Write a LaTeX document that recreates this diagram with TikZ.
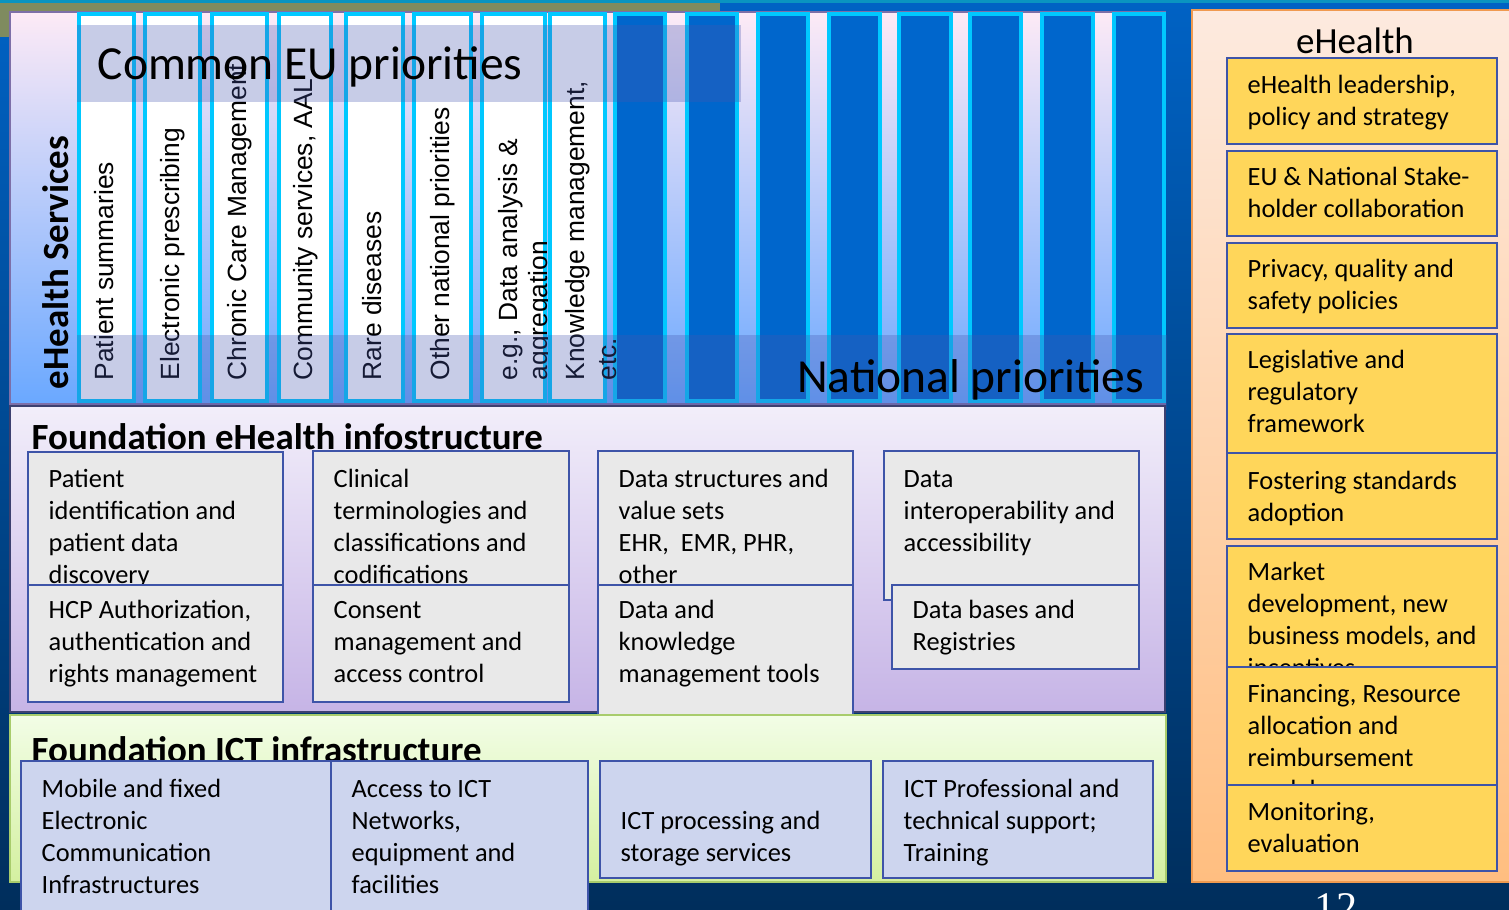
\documentclass[tikz,border=0pt]{standalone}
\usepackage{fontspec}
\setmainfont{Carlito}
\newfontfamily\columnfont{Liberation Sans}
\newfontfamily\pagefont{Liberation Serif}

\definecolor{slidetop}{HTML}{0062C4}
\definecolor{slidebottom}{HTML}{002E5C}
\definecolor{stripolive}{HTML}{7F8B5F}
\definecolor{stripteal}{HTML}{0A94C0}
\definecolor{servtop}{HTML}{FDEAF6}
\definecolor{servmid}{HTML}{C4D4EE}
\definecolor{servbottom}{HTML}{6AA8FF}
\definecolor{servline}{HTML}{7D6FA8}
\definecolor{colcyan}{HTML}{00C8FF}
\definecolor{colblue}{HTML}{0066CC}
\definecolor{bandtint}{HTML}{4858B0}
\definecolor{infotop}{HTML}{F2EEFA}
\definecolor{infobottom}{HTML}{C6B4E6}
\definecolor{infoline}{HTML}{3C4070}
\definecolor{ictop}{HTML}{F2FDE6}
\definecolor{ictbottom}{HTML}{D4F0A0}
\definecolor{ictline}{HTML}{A8CC6C}
\definecolor{govtop}{HTML}{FDEADF}
\definecolor{govbottom}{HTML}{FFBE80}
\definecolor{govline}{HTML}{F09A50}
\definecolor{boxline}{HTML}{3E54A8}
\definecolor{boxgray}{HTML}{E9E9E9}
\definecolor{boxict}{HTML}{CDD5EE}
\definecolor{boxgold}{HTML}{FFD65A}

\begin{document}
\begin{tikzpicture}[
    x=0.01cm, y=-0.01cm,
    panel/.style={line width=0.02cm},
    whitecol/.style={draw=colcyan, line width=0.04cm, fill=white},
    bluecol/.style={draw=colcyan, line width=0.04cm, fill=colblue},
    band/.style={fill=bandtint, fill opacity=0.3},
    coltext/.style={rotate=90, anchor=base west, inner sep=0pt, font=\columnfont\fontsize{7.5}{8.6}\selectfont},
    bandtitle/.style={inner sep=0pt, font=\fontsize{13.5}{16}\selectfont},
    layertitle/.style={anchor=base west, inner sep=0pt, font=\bfseries\fontsize{10.5}{12.6}\selectfont},
    cell/.style={draw=boxline, line width=0.015cm},
    celltext/.style={anchor=base west, inner sep=0pt, align=left, font=\fontsize{7.5}{9.1}\selectfont}
]
\useasboundingbox (0,0) rectangle (1509,909);
\clip (0,0) rectangle (1509,909);

% Slide background
\shade[top color=slidetop, bottom color=slidebottom] (0,0) rectangle (1509,909);
\fill[stripteal] (0,0) rectangle (1509,3);
\fill[stripolive] (0,3) rectangle (720,11);
\fill[stripolive] (0,3) rectangle (10,37);

% eHealth services layer
\draw[panel, draw=servline, top color=servtop, middle color=servmid, bottom color=servbottom] (10,12) rectangle (1165,404);

% Common priority columns
\draw[whitecol] (79,14) rectangle (134,401);
\draw[whitecol] (145,14) rectangle (200,401);
\draw[whitecol] (212,14) rectangle (267,401);
\draw[whitecol] (279,14) rectangle (331,401);
\draw[whitecol] (346,14) rectangle (403,401);
\draw[whitecol] (414,14) rectangle (471,401);
\draw[whitecol] (482,14) rectangle (545,401);

% National priority columns
\draw[bluecol] (615,14) rectangle (665,401);
\draw[bluecol] (687,14) rectangle (737,401);
\draw[bluecol] (758,14) rectangle (808,401);
\draw[bluecol] (829,14) rectangle (880,401);
\draw[bluecol] (899,14) rectangle (951,401);
\draw[bluecol] (970,14) rectangle (1021,401);
\draw[bluecol] (1042,14) rectangle (1093,401);
\draw[bluecol] (1114,14) rectangle (1164,401);

% Service names
\node[coltext] (summaries) at (113,381) {Patient summaries};
\node[coltext] (prescribing) at (179,381) {Electronic prescribing};
\node[coltext] (chronic) at (246,381) {Chronic Care Management};
\node[coltext] (community) at (312,381) {Community services, AAL};
\node[coltext] (rare) at (381,381) {Rare diseases};
\node[coltext] (othernat) at (449,381) {Other national priorities};
\node[coltext] (analysis) at (517,381) {e.g., Data analysis \&};
\node[coltext] (aggregation) at (547,381) {aggregation};
\draw[whitecol] (550,14) rectangle (605,401);
\node[coltext] (knowledge) at (584,381) {Knowledge management,};
\node[coltext] (etc) at (616,381) {etc.};

% Priority bands
\fill[band] (77,25) rectangle (741,102);
\fill[band] (77,335) rectangle (1167,410);
\node[bandtitle, anchor=base west] (common) at (97,80) {Common EU priorities};
\node[bandtitle, anchor=base east] (national) at (1145,392) {National priorities};
\node[rotate=90, anchor=base west, inner sep=0pt, font=\bfseries\fontsize{10.5}{12.6}\selectfont] (services) at (68,390) {eHealth Services};

% Foundation eHealth infostructure (text nodes sit on their last baseline)
\draw[panel, draw=infoline, top color=infotop, bottom color=infobottom] (10,406) rectangle (1165,712);
\node[layertitle] (infotitle) at (31,449) {Foundation eHealth infostructure};

\draw[cell, fill=boxgray] (28,452) rectangle (283,585);
\node[celltext] (patientid) at (48,583) {Patient\\identification and\\patient data\\discovery};
\draw[cell, fill=boxgray] (28,585) rectangle (283,702);
\node[celltext] (hcp) at (48,682) {HCP Authorization,\\authentication and\\rights management};

\draw[cell, fill=boxgray] (313,451) rectangle (569,585);
\node[celltext] (terminology) at (333,583) {Clinical\\terminologies and\\classifications and\\codifications};
\draw[cell, fill=boxgray] (313,585) rectangle (569,702);
\node[celltext] (consent) at (333,682) {Consent\\management and\\access control};

\draw[cell, fill=boxgray] (598,451) rectangle (853,585);
\node[celltext] (structures) at (618,583) {Data structures and\\value sets\\EHR,\ \ EMR, PHR,\\other};
\fill[boxgray] (598,585) rectangle (853,714);
\draw[cell] (598,714) -- (598,585) -- (853,585) -- (853,714);
\node[celltext] (knowtools) at (618,682) {Data and\\knowledge\\management tools};

\draw[cell, fill=boxgray] (884,451) rectangle (1139,600);
\node[celltext] (interop) at (903,551) {Data\\interoperability and\\accessibility};
\draw[cell, fill=boxgray] (892,585) rectangle (1139,669);
\node[celltext] (registries) at (912,650) {Data bases and\\Registries};

% Foundation ICT infrastructure
\draw[panel, draw=ictline, top color=ictop, bottom color=ictbottom] (10,715) rectangle (1166,882);
\node[layertitle] (icttitle) at (31,762) {Foundation ICT infrastructure};

\draw[cell, fill=boxict] (21,761) rectangle (331,920);
\node[celltext] (mobile) at (41,893) {Mobile and fixed\\Electronic\\Communication\\Infrastructures};
\draw[cell, fill=boxict] (331,761) rectangle (588,920);
\node[celltext] (access) at (351,893) {Access to ICT\\Networks,\\equipment and\\facilities};
\draw[cell, fill=boxict] (600,761) rectangle (871,878);
\node[celltext] (storage) at (620,861) {ICT processing and\\storage services};
\draw[cell, fill=boxict] (883,761) rectangle (1153,878);
\node[celltext] (support) at (903,861) {ICT Professional and\\technical support;\\Training};

% eHealth governance column
\draw[panel, draw=govline, top color=govtop, bottom color=govbottom] (1192,10) rectangle (1520,882);
\node[anchor=base, inner sep=0pt, font=\fontsize{10.5}{12.6}\selectfont] (govtitle) at (1355,54) {eHealth};

\draw[cell, fill=boxgold] (1227,58) rectangle (1497,144);
\node[celltext] (leadership) at (1247,125) {eHealth leadership,\\policy and strategy};
\draw[cell, fill=boxgold] (1227,151) rectangle (1497,236);
\node[celltext] (stakeholder) at (1247,217) {EU \& National Stake-\\holder collaboration};
\draw[cell, fill=boxgold] (1227,243) rectangle (1497,328);
\node[celltext] (privacy) at (1247,309) {Privacy, quality and\\safety policies};
\draw[cell, fill=boxgold] (1227,334) rectangle (1497,453);
\node[celltext] (legislative) at (1247,432) {Legislative and\\regulatory\\framework};
\draw[cell, fill=boxgold] (1227,453) rectangle (1497,539);
\node[celltext] (standards) at (1247,521) {Fostering standards\\adoption};
\draw[cell, fill=boxgold] (1227,546) rectangle (1497,667);
\node[celltext] (market) at (1247,676) {Market\\development, new\\business models, and\\incentives};
\draw[cell, fill=boxgold] (1227,667) rectangle (1497,785);
\node[celltext] (financing) at (1247,798) {Financing, Resource\\allocation and\\reimbursement\\models};
\draw[cell, fill=boxgold] (1227,785) rectangle (1497,871);
\node[celltext] (monitoring) at (1247,852) {Monitoring,\\evaluation};

% Page number
\node[anchor=north, inner sep=0pt, text=white, font=\pagefont\fontsize{12}{14}\selectfont] (pageno) at (1336,893) {12};

\end{tikzpicture}
\end{document}
